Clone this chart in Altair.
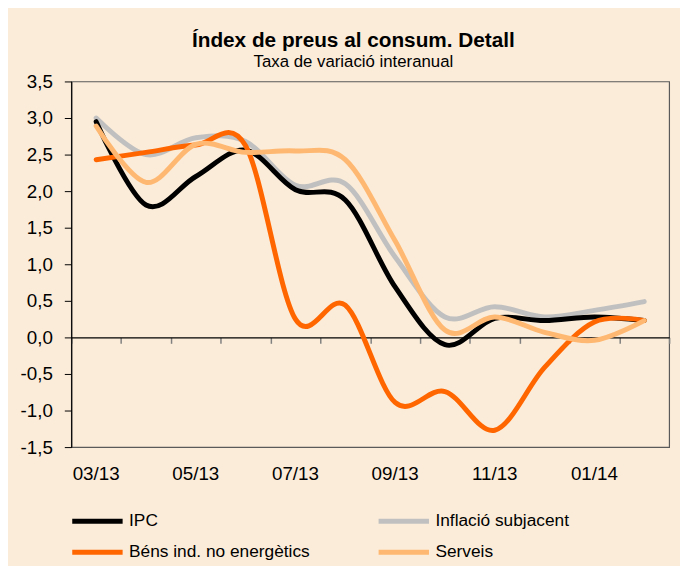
import altair as alt
import pandas as pd

# ---- data ----
MONTHS = ["03/13", "04/13", "05/13", "06/13", "07/13", "08/13",
          "09/13", "10/13", "11/13", "12/13", "01/14", "02/14"]
LABELED_MONTHS = ["03/13", "05/13", "07/13", "09/13", "11/13", "01/14"]

IPC = [2.95, 1.81, 2.20, 2.56, 2.02, 1.88, 0.69, -0.10, 0.26, 0.23, 0.28, 0.23]
SUBJACENT = [3.00, 2.50, 2.73, 2.68, 2.08, 2.10, 1.10, 0.28, 0.42, 0.28, 0.37, 0.49]
BENS = [2.43, 2.53, 2.63, 2.62, 0.25, 0.44, -0.89, -0.74, -1.27, -0.41, 0.21, 0.23]
SERVEIS = [2.89, 2.12, 2.64, 2.53, 2.55, 2.43, 1.32, 0.10, 0.28, 0.07, -0.04, 0.23]

SERIES = ["IPC", "Inflació subjacent", "Béns ind. no energètics", "Serveis"]
COLORS = ["#000000", "#C0C0C0", "#FF6600", "#FFB871"]
Y_TICKS = [-1.5, -1.0, -0.5, 0.0, 0.5, 1.0, 1.5, 2.0, 2.5, 3.0, 3.5]

values = {
    "IPC": IPC,
    "Inflació subjacent": SUBJACENT,
    "Béns ind. no energètics": BENS,
    "Serveis": SERVEIS,
}
draw_order = ["Inflació subjacent", "IPC", "Béns ind. no energètics", "Serveis"]
rows = []
for s in draw_order:
    for m, v in zip(MONTHS, values[s]):
        rows.append({"month": m, "value": v, "series": s})
df = pd.DataFrame(rows)
df_months = pd.DataFrame({"month": MONTHS})

W, H = 605, 370
Y_MIN, Y_MAX = -1.5, 3.5
zero_offset = -H * (0 - Y_MIN) / (Y_MAX - Y_MIN)

FONT = "Liberation Sans"
band = alt.Scale(type="band", paddingInner=0, paddingOuter=0)

y_enc = alt.Y(
    "value:Q",
    scale=alt.Scale(domain=[Y_MIN, Y_MAX], nice=False, zero=False),
    axis=alt.Axis(
        values=Y_TICKS,
        labelExpr="(datum.value < 0 ? '-' : '') + replace(format(abs(datum.value), '.1f'), '.', ',')",
        domainColor="black", domainWidth=1.2,
        tickColor="black", tickSize=7, tickWidth=1,
        labelFont=FONT, labelFontSize=19, labelColor="black", labelPadding=12,
        labelOverlap=False, labelBound=False,
        grid=False, title=None,
    ),
)

lines = alt.Chart(df).mark_line(interpolate="cardinal", strokeWidth=5, strokeCap="round").encode(
    x=alt.X(
        "month:O", sort=MONTHS, bandPosition=0.5, scale=band,
        axis=alt.Axis(
            orient="bottom", offset=zero_offset, labels=False, title=None, grid=False,
            domain=True, domainColor="black", domainWidth=1.2,
            ticks=True, tickBand="extent", tickColor="#808080", tickSize=6, tickWidth=1.5,
        ),
    ),
    y=y_enc,
    color=alt.Color(
        "series:N",
        scale=alt.Scale(domain=SERIES, range=COLORS),
        legend=alt.Legend(
            title=None, orient="none", legendX=-1.5, legendY=429.5, columns=2,
            direction="horizontal", clipHeight=31,
            symbolType="stroke", symbolSize=2600, symbolStrokeWidth=5,
            labelFont=FONT, labelFontSize=17.5, labelColor="black", labelOffset=4,
            labelLimit=400, columnPadding=67, rowPadding=0.5, padding=0,
        ),
    ),
    detail="series:N",
)

labels_layer = alt.Chart(df_months).mark_point(opacity=0).encode(
    x=alt.X(
        "month:O", sort=MONTHS, bandPosition=0.5, scale=band,
        axis=alt.Axis(
            orient="bottom", values=LABELED_MONTHS, domain=False, ticks=False,
            labelFont=FONT, labelFontSize=19, labelColor="black", labelPadding=18,
            labelAngle=0, title=None, grid=False,
        ),
    ),
)

chart = (
    alt.layer(lines, labels_layer)
    .resolve_scale(x="independent")
    .properties(
        width=W, height=H,
        autosize=alt.AutoSizeParams(type="none"),
        padding={"left": 64, "top": 71, "right": 11, "bottom": 117},
        title=alt.TitleParams(
            text="Índex de preus al consum. Detall",
            subtitle="Taxa de variació interanual",
            font=FONT, fontSize=21, fontWeight="bold", color="black",
            subtitleFont=FONT, subtitleFontSize=17, subtitleColor="black",
            anchor="middle", dx=-17, offset=3, subtitlePadding=3,
        ),
    )
    .configure(background="#FBECD9")
    .configure_view(stroke="#5A5A5A", strokeWidth=1.2)
)

chart.save("out.html", embed_options={"renderer": "svg", "actions": False})
